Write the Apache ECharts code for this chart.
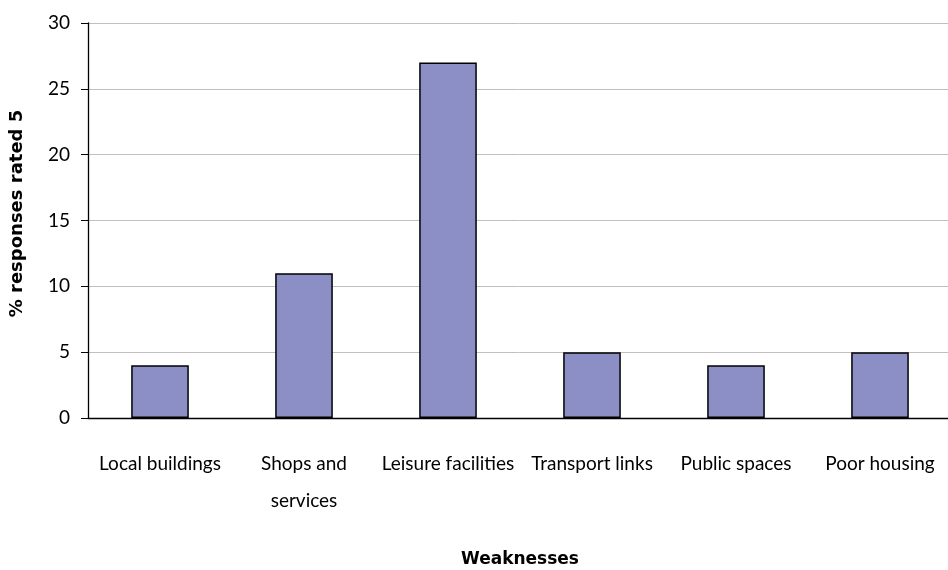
<!DOCTYPE html>
<html>
<head>
<meta charset="utf-8">
<script src="https://cdn.jsdelivr.net/npm/echarts@6/dist/echarts.min.js"></script>
<style>html,body{margin:0;padding:0;background:#fff;}#c{width:948px;height:570px;}</style>
</head>
<body>
<div id="c"></div>
<script>
const categories = ['Local buildings', 'Shops and\nservices', 'Leisure facilities', 'Transport links', 'Public spaces', 'Poor housing'];
const values = [4, 11, 27, 5, 4, 5];
const yTicks = { min: 0, max: 30, interval: 5 };
const xTitle = 'Weaknesses';
const yTitle = '% responses rated 5';

const chart = echarts.init(document.getElementById('c'), null, { renderer: 'canvas' });
const font = 'Lato, "Open Sans", sans-serif';
const boldFont = '"DejaVu Sans", sans-serif';
chart.setOption({
  animation: false,
  grid: { left: 88, top: 23, width: 864, height: 395, containLabel: false, outerBoundsMode: 'none' },
  xAxis: {
    type: 'category',
    data: categories,
    name: xTitle,
    nameLocation: 'middle',
    nameGap: 133,
    nameTextStyle: { fontFamily: boldFont, fontSize: 17, fontWeight: 'bold', color: '#000' },
    axisLine: { lineStyle: { color: '#000', width: 1.3 } },
    axisTick: { length: 8, lineStyle: { color: '#000' } },
    axisLabel: { fontFamily: font, fontSize: 19, color: '#000', margin: 27, lineHeight: 37, interval: 0 }
  },
  yAxis: {
    type: 'value',
    min: yTicks.min, max: yTicks.max, interval: yTicks.interval,
    name: yTitle,
    nameLocation: 'middle',
    nameGap: 62,
    nameTextStyle: { fontFamily: boldFont, fontSize: 18, fontWeight: 'bold', color: '#000', padding: [0, 0, 0, 14] },
    axisLine: { show: true, lineStyle: { color: '#000', width: 1.3 } },
    axisTick: { show: true, length: 7, lineStyle: { color: '#000' } },
    axisLabel: { fontFamily: font, fontSize: 19, color: '#000', margin: 18 },
    splitLine: { lineStyle: { color: '#c0c0c0', width: 1 } }
  },
  series: [{
    type: 'bar',
    data: values,
    barWidth: '40%',
    itemStyle: { color: '#8b8fc5', borderColor: '#000', borderWidth: 1.5 }
  }]
});
</script>
</body>
</html>
